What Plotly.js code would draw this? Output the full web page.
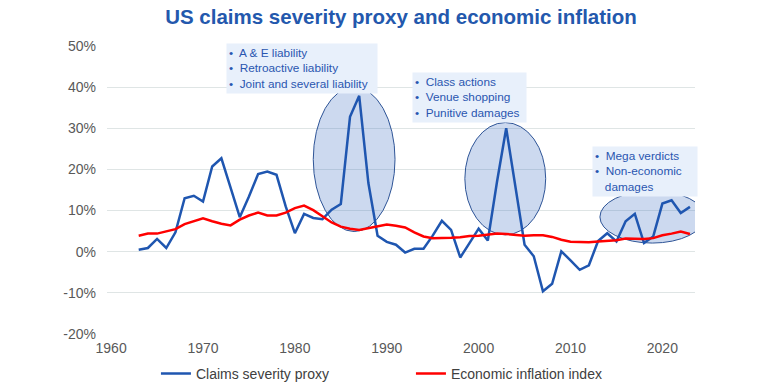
<!DOCTYPE html>
<html>
<head>
<meta charset="utf-8">
<script src="https://cdn.plot.ly/plotly-3.0.1.min.js"></script>
<style>html,body{margin:0;padding:0;background:#fff;}#chart{width:757px;height:383px;}</style>
</head>
<body>
<div id="chart"></div>
<script>
const years = [1963,1964,1965,1966,1967,1968,1969,1970,1971,1972,1973,1974,1975,1976,1977,1978,1979,1980,1981,1982,1983,1984,1985,1986,1987,1988,1989,1990,1991,1992,1993,1994,1995,1996,1997,1998,1999,2000,2001,2002,2003,2004,2005,2006,2007,2008,2009,2010,2011,2012,2013,2014,2015,2016,2017,2018,2019,2020,2021,2022,2023];
const claimsSeverity = [0.5,0.9,3.1,0.9,4.7,13.0,13.6,12.2,20.7,22.7,15.6,8.4,13.4,18.9,19.5,18.7,11.0,4.5,9.2,8.2,7.9,10.2,11.6,32.8,37.9,16.7,3.9,2.4,1.7,-0.2,0.7,0.7,3.9,7.5,5.3,-1.4,2.1,5.6,2.7,17.0,30.0,16.0,1.7,-1.1,-9.6,-7.8,0.1,-2.1,-4.4,-3.3,2.6,4.5,2.5,7.4,9.2,2.1,3.7,11.7,12.5,9.4,10.9];
const economicInflation = [3.9,4.4,4.4,4.9,5.5,6.7,7.4,8.1,7.4,6.8,6.4,7.8,8.8,9.5,8.8,8.8,9.5,10.6,11.2,10.1,8.6,7.1,6.1,5.6,5.3,5.7,6.1,6.6,6.3,5.9,4.7,3.7,3.3,3.3,3.4,3.5,3.8,3.9,4.1,4.4,4.3,4.1,3.9,4.0,4.0,3.6,2.9,2.4,2.3,2.3,2.5,2.6,2.8,3.2,3.2,3.1,3.3,4.0,4.4,4.9,4.3];
const seriesNames = ["Claims severity proxy","Economic inflation index"];
const xTickVals = [1960,1970,1980,1990,2000,2010,2020];
const yTickVals = [-20,-10,0,10,20,30,40,50];
const yTickText = ["-20%","-10%","0%","10%","20%","30%","40%","50%"];
const chartTitle = "US claims severity proxy and economic inflation";
const noteTexts = [
  "•  A & E liability<br>•  Retroactive liability<br>•  Joint and several liability",
  "•  Class actions<br>•  Venue shopping<br>•  Punitive damages",
  "•  Mega verdicts<br>•  Non-economic<br>\u00a0\u00a0\u00a0damages"
];

const traces = [
  {x: years, y: claimsSeverity, name: seriesNames[0], type: "scatter", mode: "lines",
   line: {color: "#1f56b0", width: 2.5}},
  {x: years, y: economicInflation, name: seriesNames[1], type: "scatter", mode: "lines",
   line: {color: "#ff0000", width: 2.5}}
];

const ellipseStyle = {type: "circle", xref: "x", yref: "y", layer: "between",
  fillcolor: "rgba(68,114,196,0.27)", line: {color: "#2f5597", width: 1}};

const noteStyle = {xref: "paper", yref: "paper", xanchor: "left", yanchor: "top",
  align: "left", showarrow: false, bgcolor: "#e8f0fb", borderpad: 2,
  font: {family: "Liberation Sans, Arial, sans-serif", size: 11.8, color: "#2a56b0"}};

const layout = {
  width: 757, height: 383,
  margin: {l: 107, r: 62, t: 46, b: 49},
  paper_bgcolor: "#ffffff", plot_bgcolor: "#ffffff",
  font: {family: "Liberation Sans, Arial, sans-serif", size: 14, color: "#595959"},
  title: {text: "<b>" + chartTitle + "</b>", xref: "paper", x: 0.5, xanchor: "center",
          yref: "container", y: 0.955, yanchor: "middle",
          font: {family: "Liberation Sans, Arial, sans-serif", size: 20.5, color: "#2358ad"}},
  xaxis: {range: [1959.55, 2023.55], tickvals: xTickVals, showgrid: false, zeroline: false,
          showline: false, ticks: "", ticklabelstandoff: 4, tickfont: {size: 14, color: "#595959"}},
  yaxis: {range: [-20, 50], tickvals: yTickVals, ticktext: yTickText, showgrid: true,
          gridcolor: "#dfe5e5", gridwidth: 1, zeroline: false, showline: false, ticks: "",
          ticklabelstandoff: 10, tickfont: {size: 14, color: "#595959"}},
  showlegend: true,
  legend: {orientation: "h", xref: "container", x: 0.206, xanchor: "left",
           yref: "container", y: 0.024, yanchor: "middle",
           font: {size: 14, color: "#404040"}, entrywidth: 210, entrywidthmode: "pixels",
           bgcolor: "rgba(0,0,0,0)"},
  shapes: [
    Object.assign({x0: 1982.0, x1: 1990.9, y0: 4.9, y1: 40.0}, ellipseStyle),
    Object.assign({x0: 1998.5, x1: 2007.3, y0: 4.1, y1: 31.4}, ellipseStyle),
    Object.assign({x0: 2013.2, x1: 2024.6, y0: 2.1, y1: 14.8}, ellipseStyle)
  ],
  annotations: [
    Object.assign({x: 0.2024, y: 1.0104, text: noteTexts[0], width: 146}, noteStyle),
    Object.assign({x: 0.5187, y: 0.9097, text: noteTexts[1], width: 109}, noteStyle),
    Object.assign({x: 0.8248, y: 0.6528, text: noteTexts[2], width: 100}, noteStyle)
  ]
};

Plotly.newPlot("chart", traces, layout, {displayModeBar: false, staticPlot: true});
</script>
</body>
</html>
